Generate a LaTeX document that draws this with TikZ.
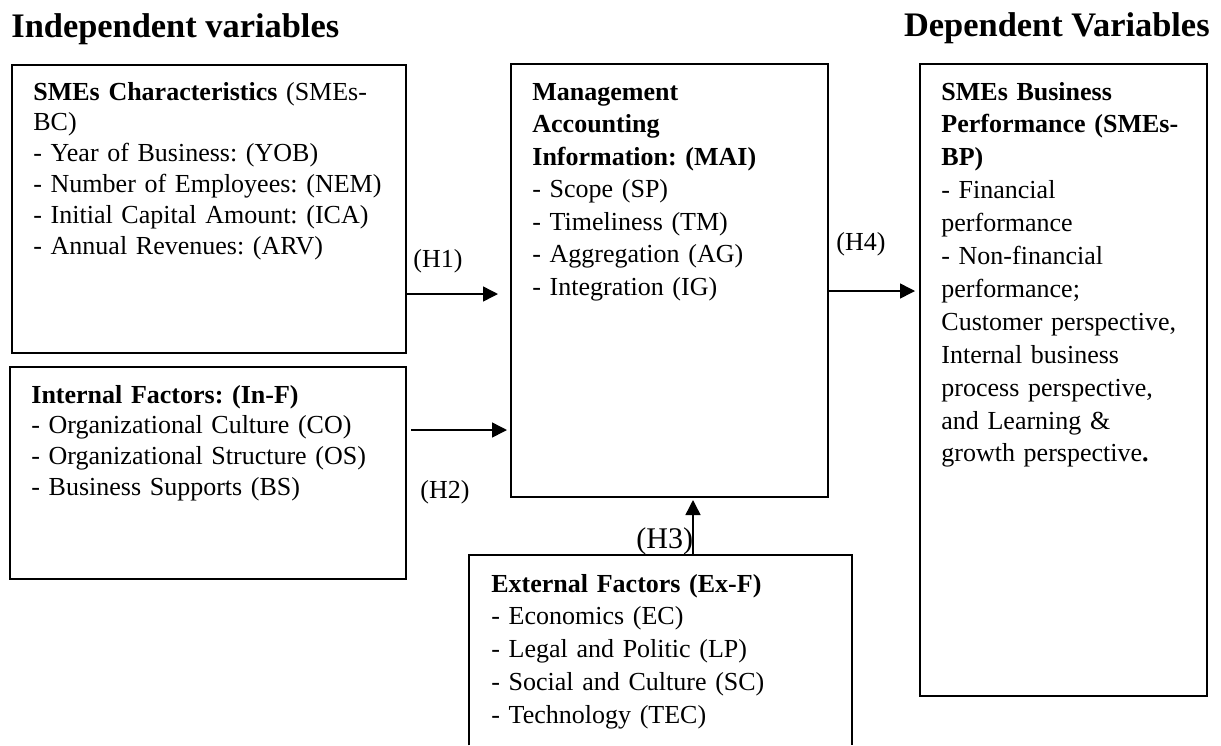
\documentclass[tikz,border=0pt]{standalone}
\usepackage{fontspec}
\setmainfont{Liberation Serif}
\usetikzlibrary{arrows.meta,fit}
\newcommand\myfs[1]{\fontsize{13}{#1}\selectfont}
\frenchspacing
\begin{document}
\begin{tikzpicture}[x=0.5pt,y=-0.5pt,
  boxline/.style={line width=1pt},
  box/.style={draw,boxline,inner sep=0pt},
  txt/.style={anchor=base west,inner sep=0pt,align=left},
  title/.style={inner sep=0pt,font=\fontsize{17.2}{20}\selectfont\bfseries},
  arr/.style={line width=0.75pt,-{Triangle[length=7.5pt,width=7.5pt]}}]
\fill[white] (0,0) rectangle (1221,745);
\useasboundingbox (0,0) rectangle (1221,745);

% titles
\node[title,anchor=base west] (tl) at (11,37) {Independent variables};
\node[title,anchor=base east] (tr) at (1210,36) {Dependent Variables};

% boxes
\node[box,fit={(12,65) (406,353)}] (b1) {};
\node[box,fit={(10,367) (406,579)}] (b2) {};
\node[box,fit={(511,64) (828,497)}] (mai) {};
\node[box,fit={(920,64) (1207,696)}] (dep) {};
\node[inner sep=0pt,fit={(469,555) (852,745)}] (ext) {};
\draw[boxline] (ext.south west) -- (ext.north west) -- (ext.north east) -- (ext.south east);

% box texts
\node[txt,text width=185pt,font=\myfs{15.4}] (t1) at (33,100)
  {\textbf{SMEs Characteristics} (SMEs-\\BC)\\- Year of Business: (YOB)\\- Number of Employees: (NEM)\\- Initial Capital Amount: (ICA)\\- Annual Revenues: (ARV)};
\node[txt,text width=185pt,font=\myfs{15.35}] (t2) at (31,403)
  {\textbf{Internal Factors: (In-F)}\\- Organizational Culture (CO)\\- Organizational Structure (OS)\\- Business Supports (BS)};
\node[txt,text width=145pt,font=\myfs{16.25}] (t3) at (532,100)
  {\textbf{Management}\\\textbf{Accounting}\\\textbf{Information: (MAI)}\\- Scope (SP)\\- Timeliness (TM)\\- Aggregation (AG)\\- Integration (IG)};
\node[txt,text width=175pt,font=\myfs{16.4}] (t4) at (491,592)
  {\textbf{External Factors (Ex-F)}\\- Economics (EC)\\- Legal and Politic (LP)\\- Social and Culture (SC)\\- Technology (TEC)};
\node[txt,text width=130pt,font=\myfs{16.45}] (t5) at (941,100)
  {\textbf{SMEs Business}\\\textbf{Performance (SMEs-}\\\textbf{BP)}\\- Financial\\performance\\- Non-financial\\performance;\\Customer perspective,\\Internal business\\process perspective,\\and Learning \&\\growth perspective\textbf{.}};

% hypothesis labels
\node[txt,font=\myfs{15}] (h1) at (413,267) {(H1)};
\node[txt,font=\myfs{15}] (h2) at (420,498) {(H2)};
\node[txt,font=\fontsize{15}{17}\selectfont] (h3) at (636,548) {(H3)};
\node[txt,font=\myfs{15}] (h4) at (836,250) {(H4)};

% arrows
\draw[arr,shorten >=6pt] (b1.east |- 0,294) -- (mai.west |- 0,294);
\draw[arr,shorten <=2pt,shorten >=1.5pt] (b2.east |- 0,430) -- (mai.west |- 0,430);
\draw[arr,shorten >=1pt] (693,0 |- ext.north) -- (693,0 |- mai.south);
\draw[arr,shorten >=2pt] (mai.east |- 0,291) -- (dep.west |- 0,291);
\end{tikzpicture}
\end{document}
